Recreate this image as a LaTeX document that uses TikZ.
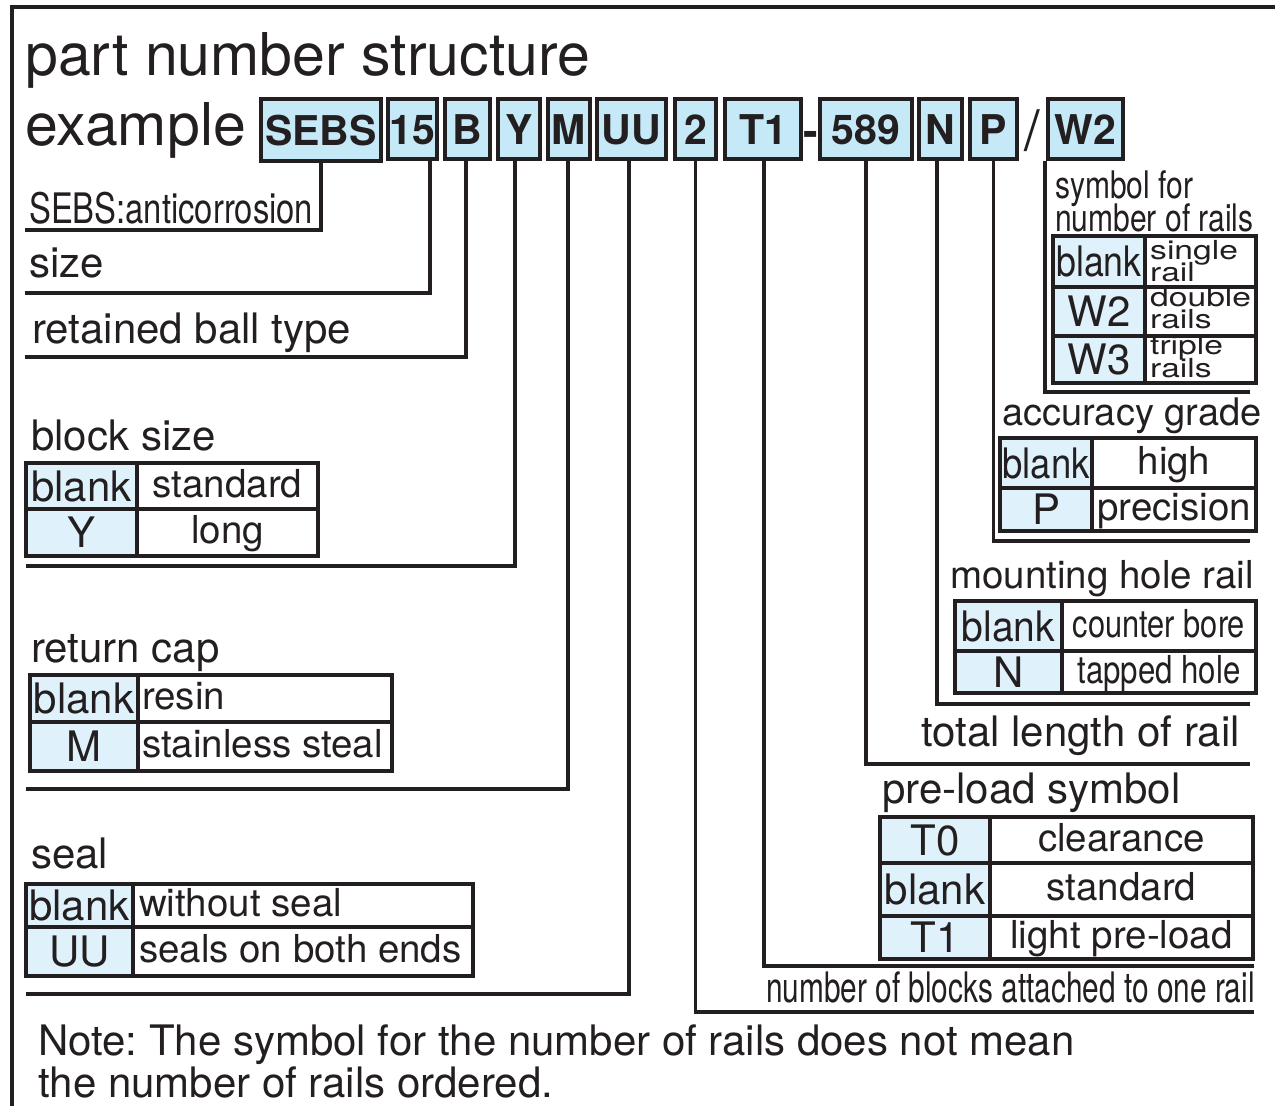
\documentclass[tikz,border=0pt]{standalone}
\usepackage{fontspec}
\setmainfont{TeX Gyre Heros}
\usepackage{graphicx}
\definecolor{ink}{RGB}{35,31,32}
\definecolor{boxblue}{RGB}{198,233,248}
\definecolor{cellblue}{RGB}{223,242,252}
\newcommand\pxf[1]{\fontsize{#1pt}{#1pt}\selectfont}
\newcommand\hsq[2]{\scalebox{#1}[1]{#2}}
\newcommand\vsq[1]{\scalebox{1.05}[0.82]{#1}}
\begin{document}
\frenchspacing
\begin{tikzpicture}[x=1pt,y=-1pt,
  ln/.style={draw=ink, line width=3.5pt},
  codebox/.style={draw=ink, line width=4pt, fill=boxblue, inner sep=0pt, minimum height=60pt, text height=31pt, text depth=0pt, font=\pxf{41}\bfseries, text=ink},
  keycell/.style={draw=ink, line width=3.5pt, fill=cellblue, inner sep=0pt, text height=30pt, text depth=0pt, font=\pxf{42}, text=ink},
  valcell/.style={draw=ink, line width=3.5pt, fill=white, inner sep=0pt, text height=22pt, text depth=0pt, font=\pxf{38.5}, text=ink},
  lbl/.style={inner sep=0pt, anchor=base west, text=ink, font=\pxf{42}},
  glyph/.style={inner sep=0pt, anchor=base, text=ink}
]
\useasboundingbox (0,0) rectangle (1275,1106);
% frame
\draw[draw=ink, line width=4pt] (12,1106) -- (12,7) -- (1275,7);

% title
\node[lbl, font=\pxf{59}] (title) at (25,75) {part number structure};
\node[lbl, font=\pxf{59}] (example) at (25,145) {example};

% code boxes
\node[codebox, minimum width=120pt, minimum height=62pt] (sebs) at (321,130) {SEBS};
\node[codebox, minimum width=49pt] (n15) at (412.5,129) {15};
\node[codebox, minimum width=45pt] (bb) at (467.5,129) {B};
\node[codebox, minimum width=42pt] (yy) at (519,129) {Y};
\node[codebox, minimum width=42pt] (mm) at (569,129) {M};
\node[codebox, minimum width=69pt] (uu) at (631.5,129) {UU};
\node[codebox, minimum width=41pt] (two) at (695.5,129) {2};
\node[codebox, minimum width=76pt] (tone) at (763,129) {T1};
\node[glyph, font=\pxf{44}\bfseries] (dash) at (811,146) {-};
\node[codebox, minimum width=92pt] (c589) at (866,129) {589};
\node[codebox, minimum width=43pt] (nn) at (940.5,129) {N};
\node[codebox, minimum width=47pt] (pp) at (993.5,129) {P};
\node[glyph, font=\pxf{56}] (slash) at (1032,150) {/};
\node[codebox, minimum width=75pt] (wtwo) at (1085.5,129) {W2};

% connector ends
\coordinate (eSEBS) at (25,230);
\coordinate (e15) at (25,293);
\coordinate (eB) at (25,357);
\coordinate (eY) at (26,566);
\coordinate (eM) at (26,789);
\coordinate (eUU) at (26,994);
\coordinate (e2) at (1254,1012);
\coordinate (eT1) at (1254,966);
\coordinate (e589) at (1250,764);
\coordinate (eN) at (1250,704);
\coordinate (eP) at (1250,541);
\coordinate (eW2) at (1250,392);

% connectors
\draw[ln] (sebs.south) |- (eSEBS);
\draw[ln] ([xshift=17.5pt]n15.south) |- (e15);
\draw[ln] ([xshift=-1.5pt]bb.south) |- (eB);
\draw[ln] ([xshift=-4pt]yy.south) |- (eY);
\draw[ln] ([xshift=-1pt]mm.south) |- (eM);
\draw[ln] ([xshift=-2.5pt]uu.south) |- (eUU);
\draw[ln] (two.south) |- (e2);
\draw[ln] ([xshift=1pt]tone.south) |- (eT1);
\draw[ln] (c589.south) |- (e589);
\draw[ln] ([xshift=-3.5pt]nn.south) |- (eN);
\draw[ln] (pp.south) |- (eP);
\draw[ln] ([xshift=-1pt]wtwo.south west) |- (eW2);

% left labels
\node[lbl] (lsebs) at (29,223) {\hsq{0.78}{SEBS:anticorrosion}};
\node[lbl] (lsize) at (29,277) {size};
\node[lbl] (lball) at (32,343) {retained ball type};

% block size
\node[lbl] (lblock) at (31,450) {block size};
\node[keycell, minimum width=111pt, minimum height=46pt] (bsk1) at (81.5,486) {blank};
\node[valcell, minimum width=181pt, minimum height=46pt] (bsv1) at (227.5,486) {standard};
\node[keycell, minimum width=111pt, minimum height=47pt] (bsk2) at (81.5,532.5) {Y};
\node[valcell, minimum width=181pt, minimum height=47pt] (bsv2) at (227.5,532.5) {long};

% return cap
\node[lbl] (lcap) at (31,662) {return cap};
\node[keycell, minimum width=108pt, minimum height=47pt] (rck1) at (84,698.5) {blank};
\node[valcell, minimum width=254pt, minimum height=47pt] (rcv1) at (265,698.5) {\makebox[246pt][l]{resin}};
\node[keycell, minimum width=108pt, minimum height=49pt] (rck2) at (84,746.5) {M};
\node[valcell, minimum width=254pt, minimum height=49pt] (rcv2) at (265,746.5) {\makebox[246pt][l]{stainless steal}};

% seal
\node[lbl] (lseal) at (31,868) {seal};
\node[keycell, minimum width=107pt, minimum height=43pt] (sk1) at (79.5,905.5) {blank};
\node[valcell, minimum width=340pt, minimum height=43pt] (sv1) at (303,905.5) {\makebox[328pt][l]{without seal}};
\node[keycell, minimum width=107pt, minimum height=49pt] (sk2) at (79.5,951.5) {UU};
\node[valcell, minimum width=340pt, minimum height=49pt] (sv2) at (303,951.5) {\makebox[328pt][l]{seals on both ends}};

% number of rails
\node[lbl, font=\pxf{38}] (lsym1) at (1055,198) {\hsq{0.79}{symbol for}};
\node[lbl, font=\pxf{38}] (lsym2) at (1055,231) {\hsq{0.79}{number of rails}};
\node[keycell, minimum width=92pt, minimum height=51pt] (wk1) at (1099,261.5) {\hsq{0.85}{blank}};
\node[valcell, minimum width=111pt, minimum height=51pt] (wv1) at (1200.5,261.5) {};
\node[keycell, minimum width=92pt, minimum height=49pt] (wk2) at (1099,311.5) {W2};
\node[valcell, minimum width=111pt, minimum height=49pt] (wv2) at (1200.5,311.5) {};
\node[keycell, minimum width=92pt, minimum height=47pt] (wk3) at (1099,359.5) {W3};
\node[valcell, minimum width=111pt, minimum height=47pt] (wv3) at (1200.5,359.5) {};
\node[lbl, font=\pxf{32}] (wt1a) at (1150,259) {\vsq{single}};
\node[lbl, font=\pxf{32}] (wt1b) at (1150,281) {\vsq{rail}};
\node[lbl, font=\pxf{32}] (wt2a) at (1150,306) {\vsq{double}};
\node[lbl, font=\pxf{32}] (wt2b) at (1150,328) {\vsq{rails}};
\node[lbl, font=\pxf{32}] (wt3a) at (1150,354) {\vsq{triple}};
\node[lbl, font=\pxf{32}] (wt3b) at (1150,377) {\vsq{rails}};

% accuracy grade
\node[lbl, font=\pxf{38}] (lacc) at (1002,425) {accuracy grade};
\node[keycell, minimum width=92pt, minimum height=50pt] (ak1) at (1046,463) {\hsq{0.87}{blank}};
\node[valcell, minimum width=164pt, minimum height=50pt] (av1) at (1174,463) {high};
\node[keycell, minimum width=92pt, minimum height=43pt] (ak2) at (1046,509.5) {P};
\node[valcell, minimum width=164pt, minimum height=43pt] (av2) at (1174,509.5) {precision};

% mounting hole rail
\node[lbl, font=\pxf{38.5}] (lmount) at (950,588) {mounting hole rail};
\node[keycell, minimum width=107pt, minimum height=50pt] (mk1) at (1008.5,626) {\hsq{0.93}{blank}};
\node[valcell, minimum width=194pt, minimum height=50pt] (mv1) at (1159,626) {\hsq{0.8}{counter bore}};
\node[keycell, minimum width=107pt, minimum height=42pt] (mk2) at (1008.5,672) {N};
\node[valcell, minimum width=194pt, minimum height=42pt] (mv2) at (1159,672) {\hsq{0.81}{tapped hole}};

% total length
\node[lbl] (ltotal) at (921,746) {total length of rail};

% pre-load
\node[lbl] (lpre) at (882,803) {pre-load symbol};
\node[keycell, minimum width=110pt, minimum height=46pt] (pk1) at (935,840) {T0};
\node[valcell, minimum width=263pt, minimum height=46pt] (pv1) at (1121.5,840) {clearance};
\node[keycell, minimum width=110pt, minimum height=53pt] (pk2) at (935,889.5) {blank};
\node[valcell, minimum width=263pt, minimum height=53pt] (pv2) at (1121.5,889.5) {standard};
\node[keycell, minimum width=110pt, minimum height=43pt] (pk3) at (935,937.5) {T1};
\node[valcell, minimum width=263pt, minimum height=43pt] (pv3) at (1121.5,937.5) {light pre-load};

% number of blocks
\node[lbl] (lblocks) at (766,1002) {\hsq{0.71}{number of blocks attached to one rail}};

% note
\node[lbl] (note1) at (38,1055) {Note: The symbol for the number of rails does not mean};
\node[lbl] (note2) at (38,1097) {the number of rails ordered.};
\end{tikzpicture}
\end{document}
